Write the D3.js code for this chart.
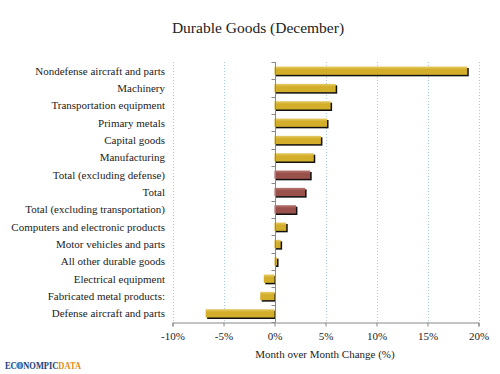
<!DOCTYPE html>
<html><head><meta charset="utf-8">
<script src="https://cdn.jsdelivr.net/npm/d3@7"></script>
<style>body{margin:0;background:#fff}svg{display:block}</style>
</head><body>
<svg id="c" width="500" height="374"></svg>
<script>
const categories = ["Nondefense aircraft and parts","Machinery","Transportation equipment","Primary metals","Capital goods","Manufacturing","Total (excluding defense)","Total","Total (excluding transportation)","Computers and electronic products","Motor vehicles and parts","All other durable goods","Electrical equipment","Fabricated metal products:","Defense aircraft and parts"];
const values = [18.9, 6.0, 5.5, 5.15, 4.55, 3.85, 3.5, 3.0, 2.1, 1.15, 0.6, 0.25, -1.05, -1.4, -6.75];
const groups = ["g","g","g","g","g","g","t","t","t","g","g","g","g","g","g"];
const xTicks = [-10,-5,0,5,10,15,20];

(function(){
const svg = d3.select("#c");
const pL = 172.5, pR = 478.5, pT = 62, pB = 322;
const x = d3.scaleLinear().domain([-10,20]).range([pL,pR]);
const y = d3.scaleBand().domain(categories).range([pT,pB]).paddingInner(0.52).paddingOuter(0.26);
const font = "'Liberation Serif', serif";

const defs = svg.append("defs");
function grad(id, c1, c2){
  const g = defs.append("linearGradient").attr("id",id).attr("x1",0).attr("y1",0).attr("x2",0).attr("y2",1);
  g.append("stop").attr("offset","0%").attr("stop-color",c1);
  g.append("stop").attr("offset","35%").attr("stop-color",c2);
  g.append("stop").attr("offset","100%").attr("stop-color",c2);
}
grad("gg","#e6cc6a","#d3ae2b");
grad("gt","#b67a74","#9a514c");
const lg = defs.append("linearGradient").attr("id","logo").attr("gradientUnits","userSpaceOnUse")
  .attr("x1",5).attr("y1",0).attr("x2",81).attr("y2",0);
[[0,"#1f3f7a"],[0.7,"#1f3f7a"],[0.7,"#e08a1e"],[1,"#e08a1e"]].forEach(s=>
  lg.append("stop").attr("offset",s[0]).attr("stop-color",s[1]));

svg.append("text").attr("x",258).attr("y",33).attr("text-anchor","middle")
  .attr("font-family",font).attr("font-size",15.5).attr("fill","#222")
  .text("Durable Goods (December)");

svg.append("g").selectAll("line").data(xTicks.filter(d=>d!==0)).join("line")
  .attr("x1",d=>Math.round(x(d))+0.5).attr("x2",d=>Math.round(x(d))+0.5)
  .attr("y1",pT).attr("y2",pB)
  .attr("stroke","#a9c8e4").attr("stroke-width",1).attr("stroke-dasharray","1,2");

const bh = y.bandwidth();
svg.append("g").selectAll("rect").data(values).join("rect")
  .attr("x",d=>x(Math.min(0,d))+1.5).attr("y",(d,i)=>y(categories[i])+1.5)
  .attr("width",d=>Math.abs(x(d)-x(0))).attr("height",bh)
  .attr("fill","#111");
svg.append("g").selectAll("rect").data(values).join("rect")
  .attr("x",d=>x(Math.min(0,d))).attr("y",(d,i)=>y(categories[i]))
  .attr("width",d=>Math.abs(x(d)-x(0))).attr("height",bh)
  .attr("fill",(d,i)=>groups[i]==="t"?"url(#gt)":"url(#gg)");

const yAxis = svg.append("g").attr("transform",`translate(${Math.round(x(0))+0.5},0)`);
yAxis.append("line").attr("y1",pT).attr("y2",pB).attr("stroke","#888");
const edges = d3.range(categories.length+1).map(i=>pT + i*(pB-pT)/categories.length);
yAxis.selectAll("line.t").data(edges).join("line").attr("class","t")
  .attr("x1",-4).attr("x2",0).attr("y1",d=>Math.round(d)+0.5).attr("y2",d=>Math.round(d)+0.5).attr("stroke","#888");

svg.append("g").selectAll("text").data(categories).join("text")
  .attr("x",165).attr("y",d=>y(d)+bh/2).attr("dy","0.35em").attr("text-anchor","end")
  .attr("font-family",font).attr("font-size",11).attr("fill","#222")
  .text(d=>d);

const xa = svg.append("g").attr("transform",`translate(0,${pB+0.5})`)
  .call(d3.axisBottom(x).tickValues(xTicks).tickSize(4).tickPadding(6).tickFormat(d=>d+"%"));
xa.select(".domain").attr("stroke","#888");
xa.selectAll(".tick line").attr("stroke","#888");
xa.selectAll("text").attr("font-family",font).attr("font-size",11).attr("fill","#222");

svg.append("text").attr("x",325).attr("y",358).attr("text-anchor","middle")
  .attr("font-family",font).attr("font-size",11).attr("fill","#222")
  .text("Month over Month Change (%)");

// logo
svg.append("text").attr("x",5).attr("y",369)
  .attr("font-family",font).attr("font-weight","bold").attr("font-size",9.5)
  .attr("textLength",76).attr("lengthAdjust","spacingAndGlyphs")
  .attr("fill","url(#logo)").text("ECONOMPICDATA");
svg.append("circle").attr("cx",19.3).attr("cy",365.5).attr("r",3.2).attr("fill","#3a7fc0").attr("opacity",0.6);
})();
</script>
</body></html>
